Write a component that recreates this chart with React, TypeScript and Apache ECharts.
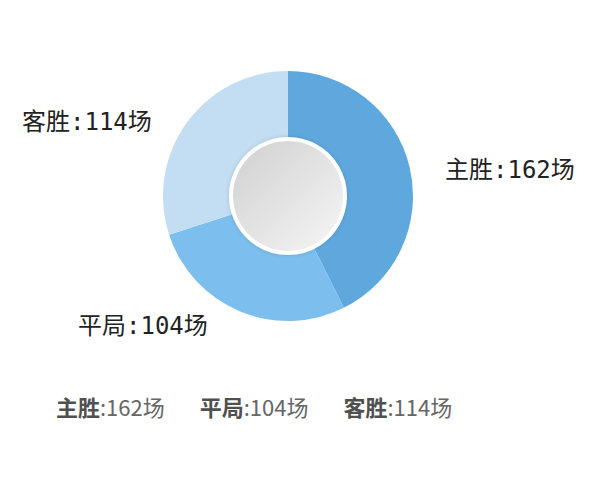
import React, { useEffect, useRef } from "react";
import * as echarts from "echarts";

const categories = ["主胜", "平局", "客胜"];
const values = [162, 104, 114];
const colors = ["#5fa8dd", "#7cbfee", "#c3def2"];
const unit = "场";

export default function App() {
  const ref = useRef<HTMLDivElement>(null);

  useEffect(() => {
    document.body.style.margin = "0";
    const chart = echarts.init(ref.current!, undefined, { renderer: "svg" });

    const labelPos: Record<number, { x: number; y: number }> = {
      0: { x: 445, y: 170 },
      1: { x: 78, y: 326 },
      2: { x: 22, y: 122 },
    };

    chart.setOption({
      animation: false,
      backgroundColor: "#ffffff",
      legend: {
        data: categories,
        left: 46,
        top: 390,
        icon: "none",
        itemWidth: 0,
        itemHeight: 0,
        itemGap: 30,
        selectedMode: false,
        formatter: (name: string) => {
          const i = categories.indexOf(name);
          return `{b|${name}}{n|:${values[i]}${unit}}`;
        },
        textStyle: {
          rich: {
            b: {
              fontSize: 22,
              fontWeight: "bold",
              color: "#505050",
              fontFamily: "Noto Sans CJK SC",
            },
            n: {
              fontSize: 22,
              color: "#666666",
              fontFamily: "Noto Sans CJK SC",
            },
          },
        },
      },
      series: [
        {
          type: "pie",
          center: [288, 196],
          radius: [58, 125],
          startAngle: 90,
          clockwise: true,
          silent: true,
          data: categories.map((name, i) => ({
            name,
            value: values[i],
            itemStyle: { color: colors[i] },
          })),
          label: {
            show: true,
            position: "outside",
            formatter: (p: any) => `${p.name}:${p.value}${unit}`,
            fontSize: 24,
            color: "#222222",
            overflow: "none",
            width: 200,
            fontFamily: "DejaVu Sans Mono, Noto Sans CJK SC",
          },
          labelLine: { show: false },
          labelLayout: (params: any) => {
            const pos = labelPos[params.dataIndex];
            return {
              x: pos.x,
              y: pos.y,
              align: "left",
              verticalAlign: "middle",
            };
          },
        },
        {
          type: "pie",
          center: [288, 196],
          radius: [0, 57],
          silent: true,
          label: { show: false },
          labelLine: { show: false },
          data: [
            {
              name: "center",
              value: 1,
              itemStyle: {
                color: new echarts.graphic.LinearGradient(0, 0, 1, 1, [
                  { offset: 0, color: "#cfcfcf" },
                  { offset: 1, color: "#f7f7f7" },
                ]),
                borderColor: "#ffffff",
                borderWidth: 4,
                shadowColor: "rgba(0,0,0,0.15)",
                shadowBlur: 4,
              },
            },
          ],
        },
      ],
    });

    return () => chart.dispose();
  }, []);

  return (
    <div
      ref={ref}
      style={{ position: "absolute", left: 0, top: 0, width: 600, height: 480 }}
    />
  );
}
